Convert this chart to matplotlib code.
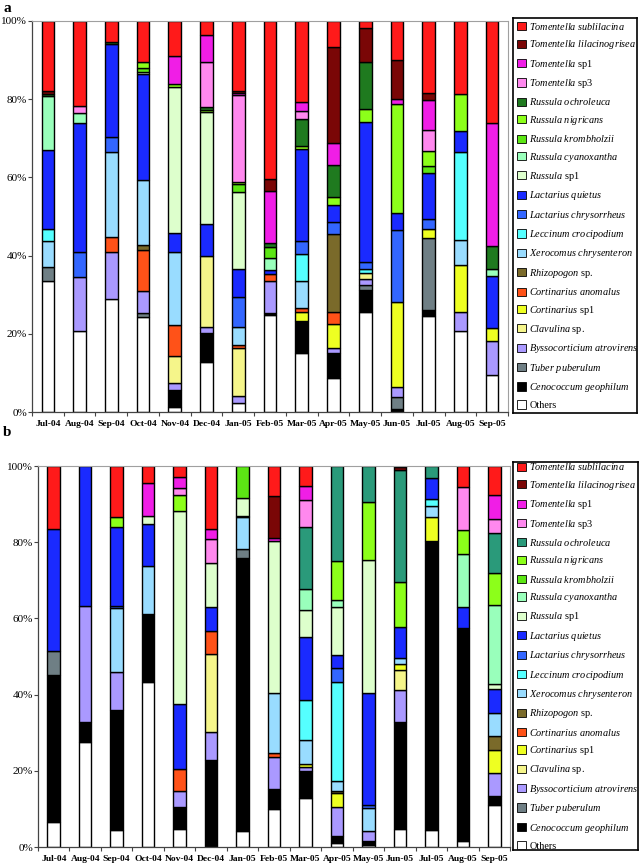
import matplotlib
matplotlib.use('Agg')
import matplotlib.pyplot as plt
from matplotlib.patches import Patch
import numpy as np

plt.rcParams['font.family'] = ['Liberation Serif', 'DejaVu Serif']
plt.rcParams['mathtext.fontset'] = 'custom'
plt.rcParams['mathtext.rm'] = 'Liberation Serif'
plt.rcParams['mathtext.it'] = 'Liberation Serif:italic'

months = ['Jul-04', 'Aug-04', 'Sep-04', 'Oct-04', 'Nov-04', 'Dec-04', 'Jan-05', 'Feb-05',
          'Mar-05', 'Apr-05', 'May-05', 'Jun-05', 'Jul-05', 'Aug-05', 'Sep-05']

# species, bottom of the stack first
species = ['Others', 'Cenococcum geophilum', 'Tuber puberulum', 'Byssocorticium atrovirens',
           'Clavulina sp.', 'Cortinarius sp1', 'Cortinarius anomalus', 'Rhizopogon sp.',
           'Xerocomus chrysenteron', 'Leccinum crocipodium', 'Lactarius chrysorrheus',
           'Lactarius quietus', 'Russula sp1', 'Russula cyanoxantha', 'Russula krombholzii',
           'Russula nigricans', 'Russula ochroleuca', 'Tomentella sp3', 'Tomentella sp1',
           'Tomentella lilacinogrisea', 'Tomentella sublilacina']

colors = ['#ffffff', '#000000', '#6f7f85', '#aa99ff', '#f5f58a', '#eeff22', '#ff5218',
          '#7a6a2a', '#99dcff', '#55ffff', '#3366ff', '#1a2aff', '#ddffcc', '#99ffbb',
          '#5ce614', '#8cff1a', '#1f7a1f', '#ff88ee', '#f01ee6', '#7a0606', '#ff1a1a']
roch_b = '#2a9a7a'

# panel a (% of ectomycorrhizal tips)
a_others = [33.5, 20.7, 28.9, 24.4, 1.4, 12.7, 2.2, 24.8, 15.2, 8.6, 25.6, 0.3, 24.5, 20.7, 9.5]
a_ceno = [0, 0, 0, 0, 4.2, 7.6, 0, 0.4, 8.1, 6.6, 5.7, 0.4, 1.6, 0, 0]
a_tuber = [3.6, 0, 0, 0.8, 0, 0, 0, 0, 0, 0, 1.2, 3.2, 18.4, 0, 0]
a_bys = [0, 13.7, 12.1, 5.7, 1.7, 1.5, 1.9, 8.4, 0, 1.1, 1.4, 2.6, 0, 4.8, 8.7]
a_clav = [0, 0, 0, 0, 7.0, 18.1, 12.2, 0, 0, 0, 1.7, 0, 0, 0, 0]
a_csp1 = [0, 0, 0, 0, 0, 0, 0, 0, 2.2, 6.2, 0, 21.7, 2.2, 12.2, 3.4]
a_canom = [0, 0, 3.8, 10.5, 7.9, 0, 0.8, 1.7, 1.0, 3.0, 0, 0, 0, 0, 0]
a_rhiz = [0, 0, 0, 1.3, 0, 0, 0, 0, 0, 20.0, 0, 0, 0, 0, 0]
a_xero = [6.6, 0, 21.7, 16.6, 18.8, 0, 4.7, 0, 7.0, 0, 0, 0, 0, 6.3, 0]
a_lecc = [3.2, 0, 0, 0, 0, 0, 0, 0, 6.9, 0, 1.1, 0, 0, 22.5, 0]
a_lch = [0, 6.6, 3.9, 0, 0, 0, 7.7, 0, 3.4, 3.1, 1.7, 18.3, 2.6, 0, 0]
a_lq = [20.0, 32.8, 23.8, 27.1, 4.8, 8.1, 7.1, 1.0, 23.5, 4.3, 35.8, 4.5, 11.9, 5.3, 13.2]
a_rsp1 = [0, 0, 0, 0.6, 37.2, 28.6, 19.7, 0, 0, 0, 0, 0, 0, 0, 0]
a_rcy = [13.9, 2.7, 0, 0, 0, 0, 0, 3.1, 0, 0, 0, 0, 0, 0, 1.9]
a_rkromb = [0, 0, 0, 1.0, 0, 0, 1.9, 2.7, 0, 0, 0, 0, 1.7, 0, 0]
a_rnig = [0, 0, 0, 1.5, 0.8, 0.7, 0.7, 0, 0.8, 2.0, 3.2, 27.7, 3.8, 9.6, 0]
a_roch = [0.5, 0, 0.4, 0, 0, 0.6, 0, 1.2, 6.8, 8.2, 12.1, 0, 0, 0, 5.8]
a_tsp3 = [0, 1.7, 0, 0, 0, 11.5, 22.1, 0, 2.0, 0, 0, 0, 5.4, 0, 0]
a_tsp1 = [0, 0, 0, 0, 7.2, 6.9, 0.6, 13.3, 2.4, 5.6, 0, 1.3, 7.6, 0, 31.3]
a_tlil = [0.7, 0, 0, 0, 0, 0, 0.5, 2.9, 0, 24.7, 8.8, 10.1, 1.9, 0, 0]
a_tsub = [18.0, 21.8, 5.4, 10.5, 9.0, 3.7, 17.9, 40.5, 20.7, 6.6, 1.7, 9.9, 18.4, 18.6, 26.2]

# panel b
b_others = [6.5, 27.6, 4.5, 43.2, 4.8, 0, 4.2, 10.0, 12.8, 1.1, 0.4, 4.8, 4.5, 1.5, 10.9]
b_ceno = [38.6, 5.1, 31.4, 18.0, 5.8, 22.9, 71.7, 5.1, 7.1, 1.8, 1.2, 27.9, 75.9, 56.0, 2.6]
b_tuber = [6.3, 0, 0, 0, 0, 0, 2.3, 0, 0, 0, 0, 0, 0, 0, 0]
b_bys = [0, 30.5, 10.1, 0, 4.2, 7.4, 0, 8.4, 1.0, 7.6, 2.6, 8.5, 0, 0, 5.9]
b_clav = [0, 0, 0, 0, 0, 20.3, 0, 0, 0, 0, 0, 5.2, 0, 0, 0]
b_csp1 = [0, 0, 0, 0, 0, 0, 0, 0, 0.9, 3.7, 0, 1.7, 6.1, 0, 6.1]
b_canom = [0, 0, 0, 0, 5.7, 6.2, 0, 1.3, 0, 0, 0, 0, 0, 0, 0]
b_rhiz = [0, 0, 0, 0, 0, 0, 0, 0, 0, 0.4, 0, 0, 0, 0, 3.7]
b_xero = [0, 0, 16.6, 12.5, 0, 0, 8.3, 15.6, 6.4, 2.7, 6.0, 1.4, 3.0, 0, 6.1]
b_lecc = [0, 0, 0, 0, 0, 0, 0, 0, 10.4, 26.1, 0, 0, 1.8, 0, 0]
b_lch = [0, 0, 0.6, 0, 0, 0, 0, 0, 0, 3.7, 0.7, 0, 0, 0, 0]
b_lq = [32.0, 36.8, 20.7, 11.1, 17.0, 6.2, 0.5, 0, 16.6, 3.4, 29.5, 8.2, 5.5, 5.4, 6.1]
b_rsp1 = [0, 0, 0, 2.2, 50.7, 11.5, 4.6, 39.8, 6.9, 12.5, 35.0, 0, 0, 0, 1.3]
b_rcy = [0, 0, 0, 0, 0, 0, 0, 0, 5.5, 1.8, 0, 0, 0, 14.0, 20.7]
b_rkromb = [0, 0, 0, 0, 0, 0, 8.4, 0, 0, 0, 0, 0, 0, 0, 0]
b_rnig = [0, 0, 2.7, 0, 4.2, 0, 0, 0, 0, 10.2, 15.1, 11.8, 0, 6.2, 8.4]
b_roch = [0, 0, 0, 0, 0, 0, 0, 0, 16.3, 25.0, 9.5, 29.5, 3.2, 0, 10.6]
b_tsp3 = [0, 0, 0, 0, 1.8, 6.3, 0, 0, 7.1, 0, 0, 0, 0, 11.3, 3.7]
b_tsp1 = [0, 0, 0, 8.5, 2.8, 2.7, 0, 0.9, 3.8, 0, 0, 0, 0, 0, 6.3]
b_tlil = [0, 0, 0, 0, 0, 0, 0, 10.9, 0, 0, 0, 0.7, 0, 0, 0]
b_tsub = [16.6, 0, 13.4, 4.5, 3.0, 16.5, 0, 8.0, 5.2, 0, 0, 0.3, 0, 5.6, 7.6]

panel_a = [a_others, a_ceno, a_tuber, a_bys, a_clav, a_csp1, a_canom, a_rhiz, a_xero, a_lecc,
           a_lch, a_lq, a_rsp1, a_rcy, a_rkromb, a_rnig, a_roch, a_tsp3, a_tsp1, a_tlil, a_tsub]
panel_b = [b_others, b_ceno, b_tuber, b_bys, b_clav, b_csp1, b_canom, b_rhiz, b_xero, b_lecc,
           b_lch, b_lq, b_rsp1, b_rcy, b_rkromb, b_rnig, b_roch, b_tsp3, b_tsp1, b_tlil, b_tsub]


def label(name):
    if name == 'Others':
        return name
    genus, rest = name.split(' ', 1)
    if rest.startswith('sp'):
        return r'$\mathit{' + genus + '}$ ' + rest
    return r'$\mathit{' + genus + r'\ ' + rest + '}$'


def draw(ax, data, cols):
    x = np.arange(len(months))
    bottom = np.zeros(len(months))
    for vals, c in zip(data, cols):
        v = np.array(vals, dtype=float)
        lw = np.where(v > 0, 1.0, 0.0)
        ax.bar(x, v, 0.4, bottom=bottom, color=c, edgecolor='black', linewidth=lw)
        bottom += v
    ax.set_xlim(-0.5, len(months) - 0.5)
    ax.set_ylim(0, 100)
    ax.set_yticks(np.arange(0, 101, 20))
    ax.set_yticklabels(['%d%%' % t for t in range(0, 101, 20)], fontsize=8)
    ax.set_xticks(x)
    ax.set_xticklabels(months, fontsize=6.8, fontweight='bold')
    ax.set_xticks(np.arange(-0.5, len(months)), minor=True)
    ax.tick_params(axis='x', which='major', length=0, pad=6)
    ax.tick_params(axis='x', which='minor', length=3, width=0.8, color='#444444')
    ax.tick_params(axis='y', length=3, width=0.8, color='#444444', pad=0.5)
    for s in ['top', 'right']:
        ax.spines[s].set_color('#a0a0a0')
        ax.spines[s].set_linewidth(0.8)
    for s in ['left', 'bottom']:
        ax.spines[s].set_color('#444444')
        ax.spines[s].set_linewidth(0.9)


def legend(fig, rect, cols):
    lax = fig.add_axes(rect)
    lax.set_xticks([])
    lax.set_yticks([])
    for s in lax.spines.values():
        s.set_linewidth(1.2)
    handles = [Patch(facecolor=c, edgecolor='black', linewidth=0.6) for c in cols][::-1]
    names = [label(n) for n in species][::-1]
    lax.legend(handles, names, loc='center left', frameon=False, fontsize=7.4,
               handlelength=0.85, handleheight=0.85, handletextpad=0.35,
               labelspacing=0.62, borderaxespad=0.2, borderpad=0.2)


fig = plt.figure(figsize=(6.4, 8.63), dpi=100)
W, H = 640.0, 863.0

ax_a = fig.add_axes([32 / W, 1 - 412 / H, 476 / W, 391 / H])
draw(ax_a, panel_a, colors)
legend(fig, [513 / W, 1 - 413 / H, 124 / W, 395 / H], colors)

cols_b = colors[:16] + [roch_b] + colors[17:]
ax_b = fig.add_axes([38 / W, 1 - 847 / H, 472 / W, 381 / H])
draw(ax_b, panel_b, cols_b)
legend(fig, [513 / W, 1 - 850 / H, 125 / W, 388 / H], cols_b)

fig.text(3 / W, 1 - 9 / H, 'a', fontsize=11, fontweight='bold', va='center', ha='left')
fig.text(3 / W, 1 - 432 / H, 'b', fontsize=11, fontweight='bold', va='center', ha='left')

fig.savefig('out.png', dpi=100)
